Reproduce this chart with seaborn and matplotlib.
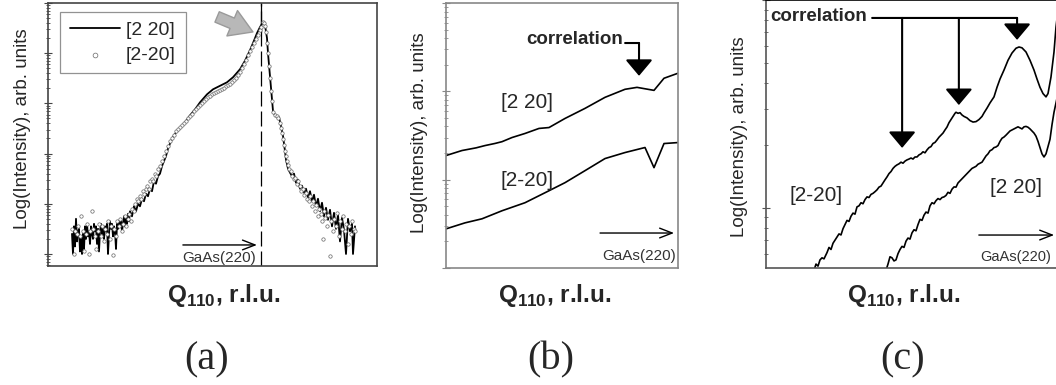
import numpy as np
import matplotlib
matplotlib.use("Agg")
import matplotlib.pyplot as plt
import seaborn as sns
from matplotlib.ticker import NullFormatter, LogLocator

# ---- data (Q in arbitrary r.l.u. offset units, intensity as log10) ----
# panel (a): [2 20] line
a_line_q = [24, 25, 26, 27, 28, 29, 30, 31, 32, 33, 34, 35, 36, 37, 38, 39, 40, 41, 42, 43,
            44, 45, 46, 47, 48, 49, 50, 51, 52, 53, 54, 55, 56, 57, 58, 59, 60, 61, 62, 63,
            64, 65, 66, 67, 68, 69, 70, 71, 72, 73, 74, 75, 76, 77, 78, 79, 80, 81, 82, 84,
            86, 88, 90, 92, 94, 96, 98, 100, 102, 104, 106, 108, 110, 112, 114, 116, 118, 120,
            122, 125, 128, 132, 137, 142, 147, 152, 159, 165, 172, 179, 185, 192, 197, 202,
            206, 209, 212, 215, 217, 219, 220, 222, 224, 225, 227, 229, 231, 233, 235, 237,
            238, 240, 242, 244, 246, 248, 250, 252, 254, 256, 258, 260, 262, 264, 266, 268,
            270, 272, 274, 276, 278, 280, 282, 284, 286, 288, 290, 292, 294, 296, 298, 300,
            302, 304, 305, 307]
a_line_log = [1.40, 1.00, 1.55, 1.15, 1.70, 1.25, 1.45, 1.50, 1.05, 1.30, 1.00, 1.40, 1.10, 1.55,
              1.30, 1.60, 1.35, 1.45, 1.20, 1.55, 1.40, 1.30, 1.60, 1.45, 1.55, 1.20, 1.50, 1.05,
              1.45, 1.60, 1.40, 1.50, 1.30, 1.55, 1.45, 1.60, 1.00, 1.40, 1.65, 1.50, 1.60, 1.35,
              1.55, 1.45, 1.10, 1.60, 1.50, 1.65, 1.55, 1.70, 1.45, 1.60, 1.75, 1.55, 1.70, 1.60,
              1.80, 1.65, 1.85, 1.75, 1.95, 1.85, 2.00, 1.95, 2.10, 2.05, 2.20, 2.15, 2.30, 2.25,
              2.45, 2.40, 2.55, 2.60, 2.75, 2.85, 2.95, 3.10, 3.20, 3.33, 3.42, 3.50, 3.62, 3.76,
              3.88, 4.02, 4.18, 4.28, 4.35, 4.42, 4.52, 4.68, 4.85, 5.06, 5.25, 5.40, 5.52, 5.62,
              5.56, 5.30, 5.00, 4.55, 4.10, 3.85, 3.76, 3.74, 3.72, 3.55, 3.35, 3.05, 2.88, 2.70,
              2.62, 2.55, 2.60, 2.42, 2.48, 2.30, 2.36, 2.22, 2.30, 2.12, 2.25, 2.05, 2.18, 1.95,
              2.10, 1.85, 2.02, 1.75, 1.92, 1.68, 1.88, 1.55, 1.82, 1.50, 1.78, 1.25, 1.72, 1.48,
              1.00, 1.70, 1.45, 1.60, 1.00, 1.55]

# panel (a): [2-20] open circles
a_dots_q = [24, 26, 27, 29, 30, 32, 33, 35, 36, 38, 39, 41, 42, 44, 45, 47, 48, 50, 51, 53,
            54, 56, 57, 59, 60, 62, 63, 65, 66, 68, 69, 71, 72, 74, 75, 77, 78, 80, 81, 83,
            84, 86, 87, 89, 90, 92, 93, 95, 96, 98, 99, 101, 102, 104, 105, 107, 108, 110, 112,
            114, 116, 118, 120, 122, 124, 126, 128, 130, 132, 134, 136, 138, 140, 142, 144, 146,
            148, 150, 152, 154, 156, 158, 160, 162, 164, 166, 168, 170, 172, 174, 176, 178, 180,
            182, 184, 186, 188, 190, 192, 194, 196, 198, 200, 202, 204, 206, 208, 210, 212, 213,
            215, 216, 217, 218, 219, 220, 221, 222, 223, 224, 225, 227, 229, 230, 232, 233, 234,
            235, 236, 237, 238, 239, 240, 241, 243, 244, 246, 247, 249, 250, 252, 253, 255, 256,
            258, 259, 261, 262, 264, 265, 267, 268, 270, 271, 273, 274, 275, 276, 277, 279, 280,
            282, 283, 285, 286, 288, 289, 291, 292, 294, 295, 297, 298, 300, 301, 303, 304, 306, 307]
a_dots_log = [1.50, 1.00, 1.45, 1.40, 1.55, 1.35, 1.75, 1.45, 1.05, 1.40, 1.60, 1.00, 1.45, 1.85,
              1.50, 1.35, 1.10, 1.45, 1.60, 1.35, 1.55, 1.25, 1.50, 1.40, 1.65, 1.30, 1.55, 0.97,
              1.50, 1.35, 1.65, 1.55, 1.70, 1.45, 1.60, 1.75, 1.55, 1.70, 1.80, 1.65,
              1.90, 1.85, 2.00, 2.10, 2.05, 2.15, 2.10, 2.25, 2.20, 2.30, 2.35, 2.30, 2.45, 2.50,
              2.45, 2.60, 2.55, 2.70, 2.75, 2.85, 2.95, 3.05, 3.15, 3.25, 3.32, 3.38, 3.44, 3.48,
              3.53, 3.57, 3.61, 3.65, 3.70, 3.75, 3.79, 3.84, 3.88, 3.93, 3.97, 4.01, 4.05, 4.09,
              4.12, 4.15, 4.18, 4.20, 4.23, 4.25, 4.27, 4.29, 4.31, 4.34, 4.36, 4.39, 4.42, 4.46,
              4.51, 4.57, 4.63, 4.70, 4.78, 4.87, 4.96, 5.04, 5.12, 5.20, 5.28, 5.36, 5.46, 5.52,
              5.62, 5.60, 5.55, 5.42, 5.20, 5.00, 4.75, 4.50, 4.25, 4.05, 3.82, 3.76, 3.74, 3.70,
              3.60, 3.50, 3.40, 3.30, 3.18, 3.05, 2.95, 2.85, 2.78, 2.70, 2.65, 2.55, 2.50, 2.52,
              2.40, 2.45, 2.35, 2.25, 2.30, 2.18, 2.22, 2.10, 2.05, 2.15, 1.95, 2.05, 1.85, 1.98,
              1.75, 1.90, 1.80, 1.65, 1.30, 1.85, 1.72, 1.55, 1.78, 0.96, 1.65, 1.45, 1.70, 1.55,
              1.82, 1.35, 1.65, 1.50, 1.75, 1.45, 1.60, 1.20, 1.55, 1.40, 1.65, 1.50, 1.45]

# panel (b)
b_up_q = [0, 16, 30, 39, 49, 56, 66, 79, 93, 103, 119, 139, 159, 179, 191, 208, 218, 232]
b_up_log = [1.273, 1.33, 1.36, 1.386, 1.41, 1.43, 1.477, 1.523, 1.58, 1.59, 1.693, 1.807,
            1.932, 2.023, 2.045, 2.011, 2.148, 2.205]
b_lo_q = [0, 19, 36, 56, 79, 99, 119, 139, 159, 179, 199, 208, 218, 232]
b_lo_log = [0.443, 0.511, 0.557, 0.648, 0.739, 0.852, 0.966, 1.102, 1.239, 1.307, 1.364,
            1.136, 1.409, 1.42]

# panel (c): [2-20] (upper/left) and [2 20] (lower/right)
c_m_q = [48, 50, 52, 54, 56, 58, 61, 63, 65, 67, 69, 71, 73, 75, 77, 79, 81, 83, 85, 87, 89,
         91, 93, 95, 97, 99, 101, 103, 105, 107, 109, 111, 113, 115, 117, 119, 121, 123, 125,
         127, 129, 131, 133, 135, 137, 139, 141, 143, 145, 147, 149, 151, 153, 155, 157, 159,
         161, 163, 165, 167, 169, 171, 173, 175, 177, 179, 181, 183, 185, 187, 189, 190, 192,
         194, 196, 198, 201, 204, 207, 210, 213, 216, 218, 221, 224, 228, 231, 234, 238, 242,
         246, 250, 253, 256, 260, 264, 268, 271, 274, 277, 280, 282, 285, 288, 290, 292]
c_m_log = [0.70, 0.73, 0.72, 0.75, 0.76, 0.755, 0.785, 0.81, 0.80, 0.83, 0.845, 0.86, 0.875,
           0.87, 0.90, 0.92, 0.94, 0.935, 0.96, 0.975, 0.97, 1.005, 1.01, 1.025, 1.02, 1.04,
           1.053, 1.05, 1.065, 1.07, 1.078, 1.087, 1.10, 1.105, 1.12, 1.135, 1.149, 1.165,
           1.175, 1.19, 1.20, 1.207, 1.212, 1.22, 1.215, 1.225, 1.231, 1.235, 1.24, 1.235,
           1.245, 1.245, 1.255, 1.26, 1.27, 1.265, 1.279, 1.29, 1.295, 1.31, 1.315, 1.327,
           1.34, 1.35, 1.36, 1.375, 1.389, 1.41, 1.425, 1.44, 1.455, 1.46, 1.455, 1.458, 1.447,
           1.44, 1.433, 1.42, 1.413, 1.415, 1.425, 1.44, 1.457, 1.48, 1.505, 1.534, 1.58, 1.62,
           1.663, 1.71, 1.745, 1.768, 1.774, 1.77, 1.75, 1.71, 1.663, 1.62, 1.58, 1.55, 1.534,
           1.55, 1.63, 1.75, 1.87, 1.95]
c_p_q = [120, 122, 124, 126, 128, 130, 132, 134, 136, 138, 140, 142, 144, 146, 148, 150, 152,
         154, 156, 158, 160, 162, 164, 166, 168, 170, 172, 174, 176, 178, 180, 182, 184, 186,
         188, 190, 192, 194, 196, 198, 200, 202, 204, 206, 208, 210, 212, 214, 216, 218, 220,
         222, 224, 226, 228, 230, 232, 234, 236, 238, 240, 242, 244, 246, 248, 250, 252, 254,
         256, 258, 260, 262, 264, 266, 268, 270, 272, 274, 276, 278, 280, 282, 284, 286, 288,
         290, 292]
c_p_log = [0.70, 0.73, 0.765, 0.76, 0.745, 0.75, 0.78, 0.80, 0.815, 0.81, 0.84, 0.855, 0.85,
           0.88, 0.895, 0.89, 0.92, 0.945, 0.94, 0.965, 0.98, 0.975, 1.01, 1.025, 1.02, 1.035,
           1.045, 1.04, 1.05, 1.053, 1.06, 1.075, 1.07, 1.09, 1.101, 1.10, 1.12, 1.13, 1.14,
           1.15, 1.16, 1.17, 1.18, 1.19, 1.195, 1.20, 1.21, 1.215, 1.22, 1.235, 1.25, 1.26,
           1.275, 1.28, 1.29, 1.293, 1.30, 1.32, 1.335, 1.341, 1.35, 1.36, 1.37, 1.375, 1.38,
           1.385, 1.39, 1.385, 1.38, 1.39, 1.392, 1.388, 1.38, 1.37, 1.36, 1.345, 1.32, 1.29,
           1.26, 1.245, 1.26, 1.295, 1.33, 1.40, 1.46, 1.505, 1.55]

# ---- figure ----
W, H = 1056, 385
sns.set_style("ticks")
plt.rcParams['font.family'] = ['Liberation Sans', 'DejaVu Sans']
plt.rcParams['mathtext.fontset'] = 'custom'
plt.rcParams['mathtext.bf'] = 'Liberation Sans:bold'
plt.rcParams['mathtext.rm'] = 'Liberation Sans'

fig = plt.figure(figsize=(W / 100, H / 100), dpi=100)


def box(x0, y0, x1, y1):
    return [x0 / W, 1 - y1 / H, (x1 - x0) / W, (y1 - y0) / H]


def style_axes(ax, spine_col):
    ax.set_yscale('log')
    ax.set_xticks([])
    ax.yaxis.set_major_locator(LogLocator(base=10))
    ax.yaxis.set_minor_locator(LogLocator(base=10, subs=np.arange(2, 10)))
    ax.yaxis.set_major_formatter(NullFormatter())
    ax.yaxis.set_minor_formatter(NullFormatter())
    ax.tick_params(axis='y', which='major', direction='inout', length=6, width=0.8, colors=spine_col)
    ax.tick_params(axis='y', which='minor', direction='inout', length=3, width=0.6, colors=spine_col)
    for s in ax.spines.values():
        s.set_color(spine_col)
        s.set_linewidth(1.2)
    ax.set_xlabel('')
    ax.set_ylabel('')


def gaas_arrow(ax, x0, x1, y, tx, ty, size=11):
    ax.annotate('', xy=(x1, y), xytext=(x0, y), xycoords='axes fraction',
                arrowprops=dict(arrowstyle='->,head_length=0.9,head_width=0.35', lw=1, color='k',
                                shrinkA=0, shrinkB=0))
    ax.text(tx, ty, 'GaAs(220)', transform=ax.transAxes, ha='center', va='center',
            fontsize=size, color='#333333')


def down_arrow(ax, x, y0, y1):
    ax.annotate('', xy=(x, y1), xytext=(x, y0), xycoords='axes fraction',
                arrowprops=dict(arrowstyle='-|>,head_width=0.42,head_length=0.5', lw=1.5,
                                color='k', mutation_scale=20, shrinkA=0, shrinkB=0))


# panel (a)
ax_a = fig.add_axes(box(48, 3, 377, 266))
sns.lineplot(x=a_line_q, y=10 ** np.array(a_line_log), ax=ax_a, color='black', lw=1.3,
             estimator=None, sort=False, label='[2 20]', zorder=2)
sns.scatterplot(x=a_dots_q, y=10 ** np.array(a_dots_log), ax=ax_a, marker='o', s=6,
                facecolor='white', edgecolor='#666666', linewidth=0.5, label='[2-20]', zorder=3)
ax_a.set_xlim(0, 329)
ax_a.set_ylim(10 ** 0.76, 10 ** 6)
style_axes(ax_a, '#444444')
ax_a.axvline(213, color='black', lw=0.9, dashes=(12, 4), zorder=1)
ax_a.axvline(213, ymin=0.89, ymax=1, color='black', lw=0.9, zorder=1)
leg = ax_a.legend(loc='upper left', bbox_to_anchor=(0.036, 0.966), borderaxespad=0,
                  fontsize=14, frameon=True, fancybox=False, edgecolor='#777777',
                  handlelength=2.6, handletextpad=0.3, borderpad=0.5, labelspacing=0.35,
                  markerscale=1.4)
leg.get_frame().set_linewidth(0.9)
ax_a.annotate('', xy=(0.623, 0.89), xytext=(0.514, 0.947), xycoords='axes fraction',
              arrowprops=dict(arrowstyle='simple,head_width=1.1,head_length=0.9,tail_width=0.45',
                              fc='#b8b8b8', ec='#9a9a9a', mutation_scale=18, shrinkA=0, shrinkB=0))
gaas_arrow(ax_a, 0.41, 0.635, 0.080, 0.52, 0.03)

# panel (b)
ax_b = fig.add_axes(box(446, 3, 678, 268))
sns.lineplot(x=b_up_q, y=10 ** np.array(b_up_log), ax=ax_b, color='black', lw=1.2,
             estimator=None, sort=False)
sns.lineplot(x=b_lo_q, y=10 ** np.array(b_lo_log), ax=ax_b, color='black', lw=1.2,
             estimator=None, sort=False)
ax_b.set_xlim(0, 232)
ax_b.set_ylim(1, 1000)
style_axes(ax_b, '#888888')
ax_b.text(0.349, 0.623, '[2 20]', transform=ax_b.transAxes, ha='center', va='center', fontsize=15)
ax_b.text(0.349, 0.332, '[2-20]', transform=ax_b.transAxes, ha='center', va='center', fontsize=15)
ax_b.text(0.556, 0.864, 'correlation', transform=ax_b.transAxes, ha='center', va='center',
          fontsize=13.5, fontweight='bold')
ax_b.annotate('', xy=(0.832, 0.849), xytext=(0.772, 0.849), xycoords='axes fraction',
              arrowprops=dict(arrowstyle='-', lw=1.5, color='k', shrinkA=0, shrinkB=0))
down_arrow(ax_b, 0.832, 0.849, 0.725)
gaas_arrow(ax_b, 0.664, 0.983, 0.132, 0.832, 0.045)

# panel (c)
ax_c = fig.add_axes(box(766, 0, 1060, 268))
sns.lineplot(x=c_m_q, y=10 ** np.array(c_m_log), ax=ax_c, color='black', lw=1.2,
             estimator=None, sort=False)
sns.lineplot(x=c_p_q, y=10 ** np.array(c_p_log), ax=ax_c, color='black', lw=1.2,
             estimator=None, sort=False)
ax_c.set_xlim(0, 294)
ax_c.set_ylim(10 ** 0.711, 10 ** 2.0)
style_axes(ax_c, '#555555')
ax_c.spines['top'].set_color('black')
ax_c.text(0.170, 0.272, '[2-20]', transform=ax_c.transAxes, ha='center', va='center', fontsize=15)
ax_c.text(0.850, 0.299, '[2 20]', transform=ax_c.transAxes, ha='center', va='center', fontsize=15)
ax_c.text(0.180, 0.937, 'correlation', transform=ax_c.transAxes, ha='center', va='center',
          fontsize=13.5, fontweight='bold')
ax_c.annotate('', xy=(0.854, 0.933), xytext=(0.361, 0.933), xycoords='axes fraction',
              arrowprops=dict(arrowstyle='-', lw=1.5, color='k', shrinkA=0, shrinkB=0))
down_arrow(ax_c, 0.463, 0.933, 0.448)
down_arrow(ax_c, 0.656, 0.933, 0.608)
down_arrow(ax_c, 0.854, 0.933, 0.851)
gaas_arrow(ax_c, 0.724, 0.980, 0.123, 0.848, 0.041, size=10.5)

# axis labels and panel tags
xlab = r'Q$_{\mathbf{110}}$, r.l.u.'
for cx, cy, tag in [(224, 207, '(a)'), (555, 551, '(b)'), (904, 903, '(c)')]:
    fig.text(cx / W, 1 - 302 / H, xlab, ha='center', va='baseline', fontsize=17.5,
             fontweight='bold')
    fig.text(cy / W, 1 - 360 / H, tag, ha='center', va='center', fontsize=29,
             family=['Liberation Serif', 'DejaVu Serif'])
for lx, ly in [(23, 129), (420, 133), (739, 137)]:
    fig.text(lx / W, 1 - ly / H, 'Log(Intensity), arb. units', rotation=90, ha='center',
             va='center', fontsize=13.5)

fig.savefig('out.png', dpi=100)
